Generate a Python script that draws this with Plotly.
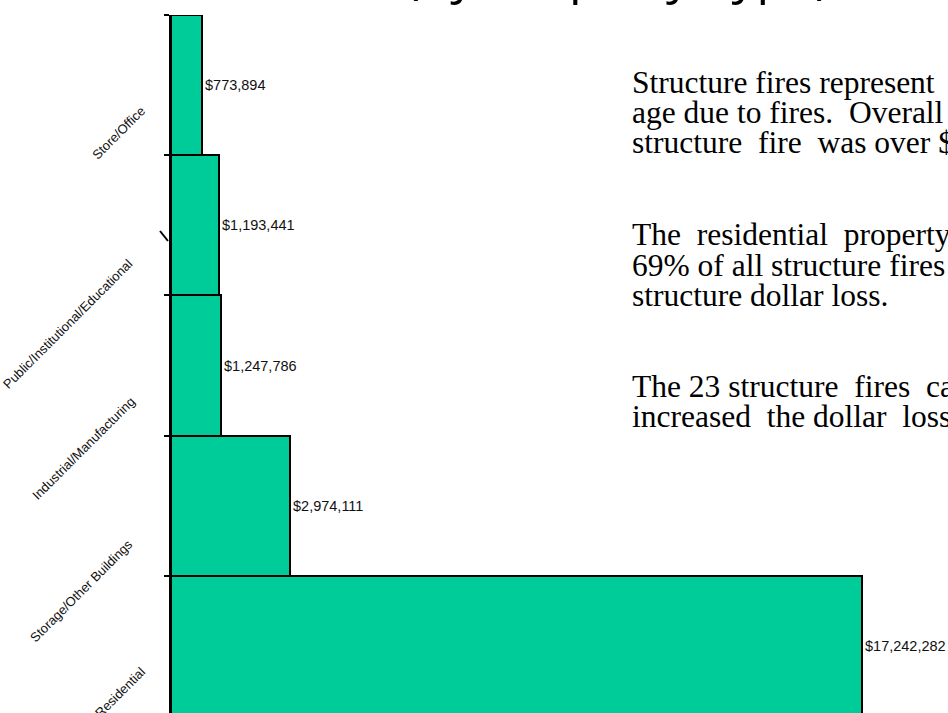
import plotly.graph_objects as go

# ---- data ----
categories = ["Store/Office", "Public/Institutional/Educational",
              "Industrial/Manufacturing", "Storage/Other Buildings", "Residential"]
dollar_loss = [773894, 1193441, 1247786, 2974111, 17242282]

title_text = "(by Property Type)"
para_lines = [
    ["Structure fires represent", "age due to fires.  Overall", "structure  fire  was over $"],
    ["The  residential  property", "69% of all structure fires", "structure dollar loss."],
    ["The 23 structure  fires  cau", "increased  the dollar  loss"],
]

# ---- layout constants ----
W, H = 948, 713
ML, MT, MR, MB = 171, 15, 0, 0
PW, PH = W - ML - MR, H - MT - MB

def px_x(px):
    return (px - ML) / PW

def px_y(py):
    return 1 - (py - MT) / PH

# tick labels: the rotated labels sit a little lower/left for some categories
label_pad = [0, 5, 4, 5, 0]
tick_text = [c + "\u00a0" * p for c, p in zip(categories, label_pad)]

fig = go.Figure()
fig.add_trace(go.Bar(
    y=categories, x=dollar_loss, orientation="h",
    marker=dict(color="#00CC99", line=dict(color="black", width=2)),
    texttemplate="$%{x:,}", textposition="outside", constraintext="none",
    textfont=dict(family="Liberation Sans, Arial, sans-serif", size=14.5, color="#111"),
    cliponaxis=False, width=1,
))

annotations = []
# title (cut off at the top)
annotations.append(dict(text=title_text, xref="paper", yref="paper",
                        x=px_x(617), y=1.0, xanchor="center", yanchor="bottom",
                        yshift=6, showarrow=False, borderpad=0,
                        font=dict(family="Open Sans", size=50, color="black")))
# paragraph text on right
centers = [[86, 116, 146], [238, 269, 299], [390, 420]]
for lines, cys in zip(para_lines, centers):
    for line, cy in zip(lines, cys):
        annotations.append(dict(text=line, xref="paper", yref="paper",
                                x=px_x(631), y=px_y(cy - 3.6),
                                xanchor="left", yanchor="middle", showarrow=False,
                                borderpad=0, align="left",
                                font=dict(family="Liberation Serif, Times New Roman, serif",
                                          size=31.5, color="black")))

fig.update_layout(
    width=W, height=H,
    margin=dict(l=ML, r=MR, t=MT, b=MB, pad=0),
    paper_bgcolor="white", plot_bgcolor="white",
    showlegend=False, bargap=0,
    annotations=annotations,
    shapes=[dict(type="line", xref="paper", yref="paper",
                 x0=px_x(160), y0=px_y(231), x1=px_x(168), y1=px_y(241),
                 line=dict(color="black", width=2))],
    xaxis=dict(range=[0, 19388000], visible=False, showgrid=False, zeroline=False),
    yaxis=dict(type="category", categoryorder="array", categoryarray=categories,
               tickmode="array", tickvals=categories, ticktext=tick_text,
               range=[4.477, -0.5], showline=True, linecolor="black", linewidth=2,
               ticks="outside", tickson="boundaries", ticklen=5, tickwidth=2,
               tickcolor="black", showgrid=False, zeroline=False,
               tickangle=-45, automargin=False,
               ticklabelshift=-24, ticklabelstandoff=25,
               tickfont=dict(family="Liberation Sans Narrow, Liberation Sans, Arial, sans-serif",
                             size=13, color="#111")),
)

fig.write_html(
    "out.html",
    config={"displayModeBar": False},
    post_script=("document.documentElement.style.margin='0';"
                 "document.body.style.margin='0';"
                 "document.body.style.overflow='hidden';"
                 "document.documentElement.style.overflow='hidden';"),
)
